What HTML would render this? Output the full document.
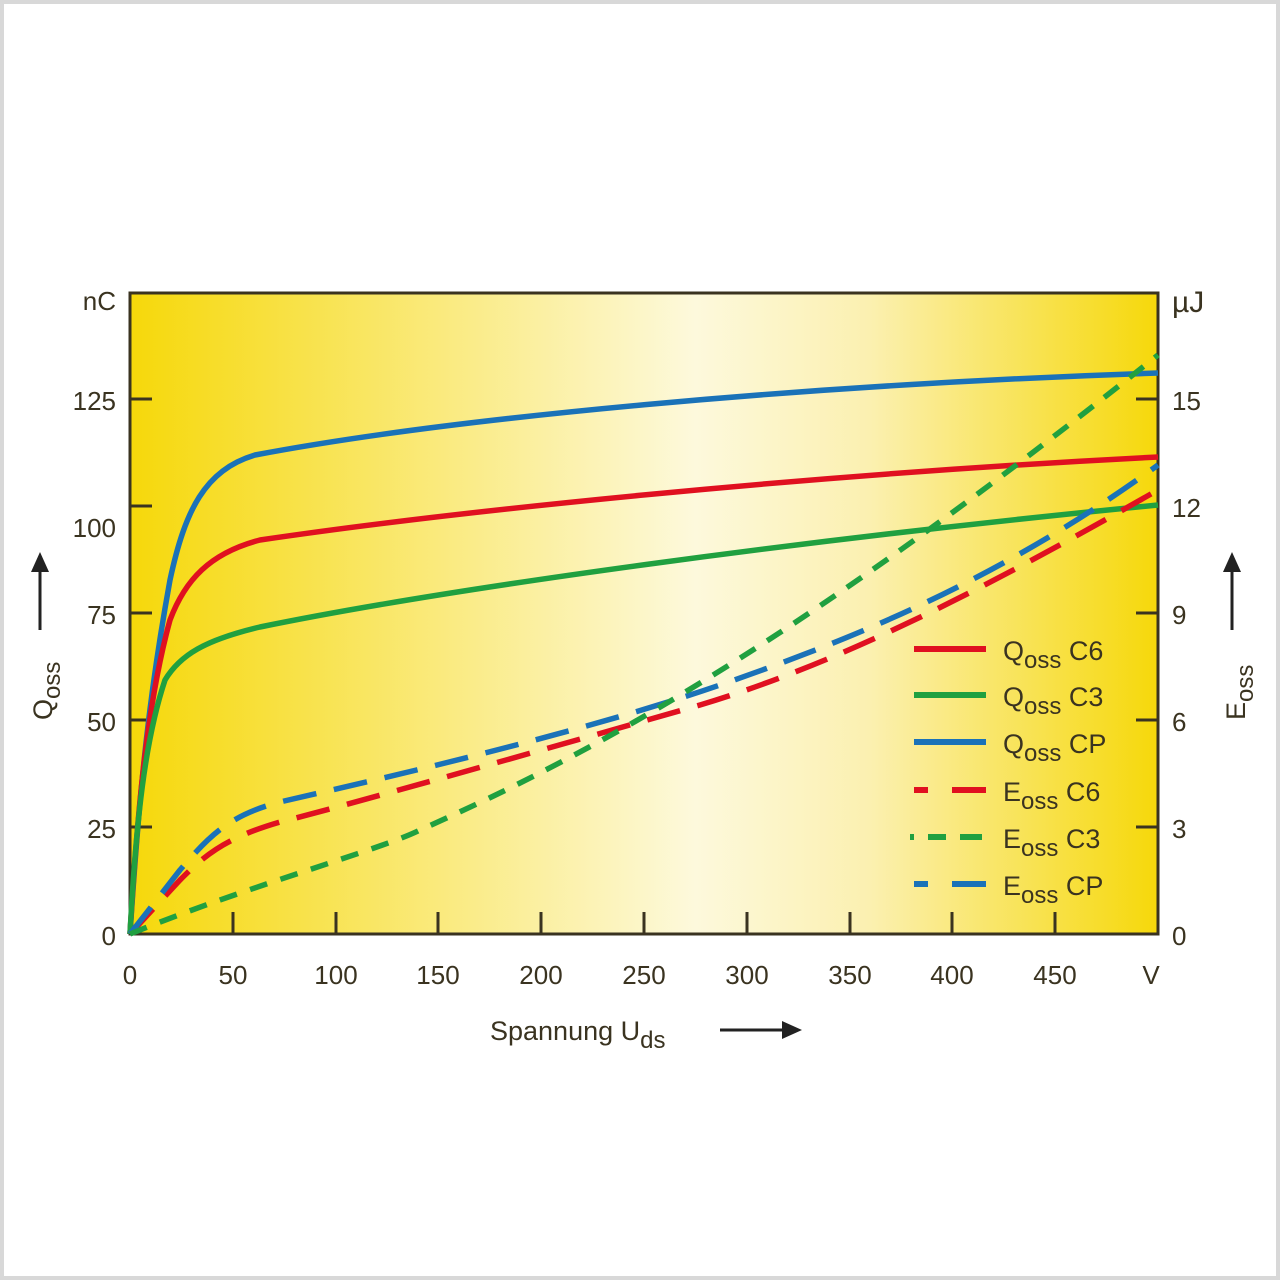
<!DOCTYPE html>
<html><head><style>body{margin:0;background:#fff}svg{display:block}</style></head><body>
<svg width="1280" height="1280" viewBox="0 0 1280 1280" xmlns="http://www.w3.org/2000/svg" font-family="Liberation Sans, sans-serif">
<defs><linearGradient id="g" x1="0" x2="1" y1="0" y2="0">
<stop offset="0" stop-color="#f6d80a"/><stop offset="0.55" stop-color="#fdf9dc"/><stop offset="0.72" stop-color="#fbf0b0"/><stop offset="1" stop-color="#f6d80a"/></linearGradient></defs>
<rect x="2" y="2" width="1276" height="1276" fill="#fff" stroke="#d8d8d8" stroke-width="4"/>
<rect x="130" y="293" width="1028" height="641" fill="url(#g)" stroke="#3a3320" stroke-width="3"/>
<g stroke="#3a3320" stroke-width="3">
<line x1="130" y1="399" x2="152" y2="399"/><line x1="130" y1="506" x2="152" y2="506"/><line x1="130" y1="613" x2="152" y2="613"/><line x1="130" y1="720" x2="152" y2="720"/><line x1="130" y1="827" x2="152" y2="827"/>
<line x1="1136" y1="399" x2="1158" y2="399"/><line x1="1136" y1="506" x2="1158" y2="506"/><line x1="1136" y1="613" x2="1158" y2="613"/><line x1="1136" y1="720" x2="1158" y2="720"/><line x1="1136" y1="827" x2="1158" y2="827"/>
<line x1="233" y1="934" x2="233" y2="912"/><line x1="336" y1="934" x2="336" y2="912"/><line x1="438" y1="934" x2="438" y2="912"/><line x1="541" y1="934" x2="541" y2="912"/><line x1="644" y1="934" x2="644" y2="912"/><line x1="747" y1="934" x2="747" y2="912"/><line x1="850" y1="934" x2="850" y2="912"/><line x1="952" y1="934" x2="952" y2="912"/><line x1="1055" y1="934" x2="1055" y2="912"/>
</g>
<g fill="none" stroke-width="5.5" stroke-linejoin="round">
<path d="M130,934 C140,780 150,690 170,580 C185,510 205,470 255,455 C450,418 800,385 1158,373" stroke="#1a72b8"/>
<path d="M130,934 C138,800 148,700 170,620 C185,580 210,553 260,540 C450,512 800,475 1158,457" stroke="#e01020"/>
<path d="M130,934 C136,820 145,740 165,680 C180,655 205,640 260,627 C450,588 800,540 1158,505" stroke="#20a040"/>
<path d="M130,934 L180,880 C205,855 225,838 280,822 C330,810 560,745 700,705 C850,660 1000,580 1158,490" stroke="#e01020" stroke-dasharray="34,18"/>
<path d="M130,934 L180,870 C210,835 230,815 280,802 C330,790 560,740 720,685 C850,640 1000,580 1158,465" stroke="#1a72b8" stroke-dasharray="34,18"/>
<path d="M130,934 C250,885 380,850 420,830 C600,750 800,640 1158,355" stroke="#20a040" stroke-dasharray="18,14"/>
</g>
<g stroke-width="6">
<line x1="914" y1="649" x2="986" y2="649" stroke="#e01020"/>
<line x1="914" y1="695" x2="986" y2="695" stroke="#20a040"/>
<line x1="914" y1="742" x2="986" y2="742" stroke="#1a72b8"/>
<line x1="914" y1="790" x2="986" y2="790" stroke="#e01020" stroke-dasharray="14,24,34,0"/>
<line x1="910" y1="837" x2="986" y2="837" stroke="#20a040" stroke-dasharray="4,14,18,14,18,0"/>
<line x1="914" y1="884" x2="986" y2="884" stroke="#1a72b8" stroke-dasharray="14,24,34,0"/>
</g>
<g fill="#3a3320" font-size="27">
<text x="1003" y="660">Q<tspan font-size="24" dy="8">oss</tspan><tspan dy="-8"> C6</tspan></text>
<text x="1003" y="706">Q<tspan font-size="24" dy="8">oss</tspan><tspan dy="-8"> C3</tspan></text>
<text x="1003" y="753">Q<tspan font-size="24" dy="8">oss</tspan><tspan dy="-8"> CP</tspan></text>
<text x="1003" y="801">E<tspan font-size="24" dy="8">oss</tspan><tspan dy="-8"> C6</tspan></text>
<text x="1003" y="848">E<tspan font-size="24" dy="8">oss</tspan><tspan dy="-8"> C3</tspan></text>
<text x="1003" y="895">E<tspan font-size="24" dy="8">oss</tspan><tspan dy="-8"> CP</tspan></text>
</g>
<g fill="#3a3320" font-size="26" text-anchor="end">
<text x="116" y="310">nC</text><text x="116" y="410">125</text><text x="116" y="537">100</text><text x="116" y="624">75</text><text x="116" y="731">50</text><text x="116" y="838">25</text><text x="116" y="945">0</text>
</g>
<g fill="#3a3320" font-size="26">
<text x="1172" y="312" font-size="30">µJ</text><text x="1172" y="410">15</text><text x="1172" y="517">12</text><text x="1172" y="624">9</text><text x="1172" y="731">6</text><text x="1172" y="838">3</text><text x="1172" y="945">0</text>
</g>
<g fill="#3a3320" font-size="26" text-anchor="middle">
<text x="130" y="984">0</text><text x="233" y="984">50</text><text x="336" y="984">100</text><text x="438" y="984">150</text><text x="541" y="984">200</text><text x="644" y="984">250</text><text x="747" y="984">300</text><text x="850" y="984">350</text><text x="952" y="984">400</text><text x="1055" y="984">450</text><text x="1151" y="984">V</text>
</g>
<text x="490" y="1040" fill="#3a3320" font-size="27">Spannung U<tspan font-size="24" dy="8">ds</tspan></text>
<line x1="720" y1="1030" x2="785" y2="1030" stroke="#222" stroke-width="3"/><polygon points="782,1021 802,1030 782,1039" fill="#222"/>
<g fill="#3a3320" font-size="27">
<text transform="translate(52,720) rotate(-90)">Q<tspan font-size="24" dy="8">oss</tspan></text>
<text transform="translate(1245,720) rotate(-90)">E<tspan font-size="24" dy="8">oss</tspan></text>
</g>
<line x1="40" y1="630" x2="40" y2="570" stroke="#222" stroke-width="3"/><polygon points="31,572 40,552 49,572" fill="#222"/>
<line x1="1232" y1="630" x2="1232" y2="570" stroke="#222" stroke-width="3"/><polygon points="1223,572 1232,552 1241,572" fill="#222"/>
</svg>
</body></html>
